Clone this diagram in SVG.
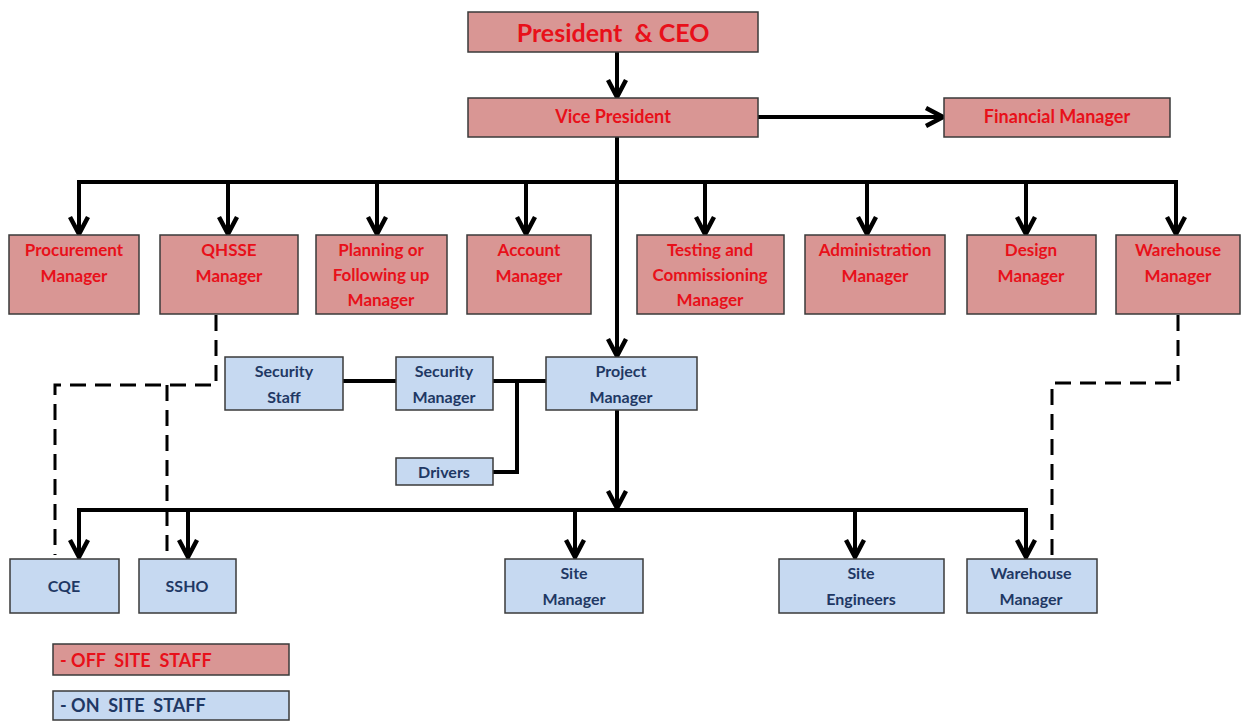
<svg xmlns="http://www.w3.org/2000/svg" width="1245" height="722" viewBox="0 0 1245 722">
<defs>
<style>
text{white-space:pre}
.off{fill:#D99694;stroke:#3a3a3a;stroke-width:1.5}
.on{fill:#C6D9F1;stroke:#3a3a3a;stroke-width:1.5}
.tr{fill:#E8101A;font-family:Lato,"Liberation Sans",sans-serif;font-weight:bold;font-size:17px;text-anchor:middle}
.tb{fill:#1F3864;font-family:Lato,"Liberation Sans",sans-serif;font-weight:bold;font-size:16px;text-anchor:middle}
.ln{stroke:#000;stroke-width:4;fill:none}
.dl{stroke:#000;stroke-width:3;fill:none;stroke-dasharray:16 9}
</style>
<marker id="ah" viewBox="0 0 22 22" refX="19" refY="11" markerWidth="22" markerHeight="22" markerUnits="userSpaceOnUse" orient="auto">
<path d="M2,2 L19,11 L2,20" fill="none" stroke="#000" stroke-width="4.5"/>
</marker>
</defs>
<rect width="1245" height="722" fill="#fff"/>

<g id="connectors">
<line class="ln" x1="617" y1="52" x2="617" y2="97" marker-end="url(#ah)"/>
<line class="ln" x1="758" y1="117" x2="943" y2="117" marker-end="url(#ah)"/>
<line class="ln" x1="617" y1="137" x2="617" y2="356" marker-end="url(#ah)"/>
<line class="ln" x1="77" y1="182" x2="1178" y2="182"/>
<line class="ln" x1="79" y1="182" x2="79" y2="234" marker-end="url(#ah)"/>
<line class="ln" x1="228" y1="182" x2="228" y2="234" marker-end="url(#ah)"/>
<line class="ln" x1="377" y1="182" x2="377" y2="234" marker-end="url(#ah)"/>
<line class="ln" x1="526" y1="182" x2="526" y2="234" marker-end="url(#ah)"/>
<line class="ln" x1="705" y1="182" x2="705" y2="234" marker-end="url(#ah)"/>
<line class="ln" x1="867" y1="182" x2="867" y2="234" marker-end="url(#ah)"/>
<line class="ln" x1="1026" y1="182" x2="1026" y2="234" marker-end="url(#ah)"/>
<line class="ln" x1="1176" y1="182" x2="1176" y2="234" marker-end="url(#ah)"/>
<line class="ln" x1="343" y1="381" x2="396" y2="381"/>
<line class="ln" x1="493" y1="381" x2="546" y2="381"/>
<path class="ln" d="M517,381 V472 H493"/>
<line class="ln" x1="617" y1="410" x2="617" y2="508" marker-end="url(#ah)"/>
<line class="ln" x1="77" y1="510" x2="1028" y2="510"/>
<line class="ln" x1="79" y1="510" x2="79" y2="557" marker-end="url(#ah)"/>
<line class="ln" x1="188" y1="510" x2="188" y2="557" marker-end="url(#ah)"/>
<line class="ln" x1="575" y1="510" x2="575" y2="557" marker-end="url(#ah)"/>
<line class="ln" x1="855" y1="510" x2="855" y2="557" marker-end="url(#ah)"/>
<line class="ln" x1="1026" y1="510" x2="1026" y2="557" marker-end="url(#ah)"/>
<path class="dl" d="M216,315 V385 H55 V555"/>
<path class="dl" d="M167,385 V555"/>
<path class="dl" d="M1178,315 V383 H1052 V555"/>
</g>

<g id="ceo"><rect class="off" x="468" y="12" width="290" height="40"/><text class="tr" x="613" y="42" style="font-size:25px">President  &amp; CEO</text></g>
<g id="vp"><rect class="off" x="468" y="98" width="290" height="39"/><text class="tr" x="613" y="123" style="font-size:18px">Vice President</text></g>
<g id="fm"><rect class="off" x="944" y="98" width="226" height="39"/><text class="tr" x="1057" y="123" style="font-size:18px">Financial Manager</text></g>

<g id="procurement"><rect class="off" x="9" y="235" width="130" height="79"/><text class="tr" x="74" y="256">Procurement</text><text class="tr" x="74" y="282">Manager</text></g>
<g id="qhsse"><rect class="off" x="160" y="235" width="138" height="79"/><text class="tr" x="229" y="256">QHSSE</text><text class="tr" x="229" y="282">Manager</text></g>
<g id="planning"><rect class="off" x="316" y="235" width="131" height="79"/><text class="tr" x="381" y="256">Planning or</text><text class="tr" x="381" y="281">Following up</text><text class="tr" x="381" y="306">Manager</text></g>
<g id="account"><rect class="off" x="467" y="235" width="124" height="79"/><text class="tr" x="529" y="256">Account</text><text class="tr" x="529" y="282">Manager</text></g>
<g id="testing"><rect class="off" x="637" y="235" width="147" height="79"/><text class="tr" x="710" y="256">Testing and</text><text class="tr" x="710" y="281">Commissioning</text><text class="tr" x="710" y="306">Manager</text></g>
<g id="administration"><rect class="off" x="805" y="235" width="140" height="79"/><text class="tr" x="875" y="256">Administration</text><text class="tr" x="875" y="282">Manager</text></g>
<g id="design"><rect class="off" x="967" y="235" width="129" height="79"/><text class="tr" x="1031" y="256">Design</text><text class="tr" x="1031" y="282">Manager</text></g>
<g id="warehouse-off"><rect class="off" x="1116" y="235" width="124" height="79"/><text class="tr" x="1178" y="256">Warehouse</text><text class="tr" x="1178" y="282">Manager</text></g>

<g id="security-staff"><rect class="on" x="225" y="357" width="118" height="53"/><text class="tb" x="284" y="377">Security</text><text class="tb" x="284" y="403">Staff</text></g>
<g id="security-manager"><rect class="on" x="396" y="357" width="97" height="53"/><text class="tb" x="444" y="377">Security</text><text class="tb" x="444" y="403">Manager</text></g>
<g id="project-manager"><rect class="on" x="546" y="357" width="151" height="53"/><text class="tb" x="621" y="377">Project</text><text class="tb" x="621" y="403">Manager</text></g>
<g id="drivers"><rect class="on" x="396" y="458" width="97" height="27"/><text class="tb" x="444" y="478">Drivers</text></g>

<g id="cqe"><rect class="on" x="10" y="559" width="109" height="54"/><text class="tb" x="64" y="592">CQE</text></g>
<g id="ssho"><rect class="on" x="139" y="559" width="97" height="54"/><text class="tb" x="187" y="592">SSHO</text></g>
<g id="site-manager"><rect class="on" x="505" y="559" width="138" height="54"/><text class="tb" x="574" y="579">Site</text><text class="tb" x="574" y="605">Manager</text></g>
<g id="site-engineers"><rect class="on" x="779" y="559" width="165" height="54"/><text class="tb" x="861" y="579">Site</text><text class="tb" x="861" y="605">Engineers</text></g>
<g id="warehouse-on"><rect class="on" x="967" y="559" width="130" height="54"/><text class="tb" x="1031" y="579">Warehouse</text><text class="tb" x="1031" y="605">Manager</text></g>

<g id="legend-off"><rect class="off" x="53" y="644" width="236" height="31"/><text class="tr" x="60" y="667" style="text-anchor:start;font-size:18px">- OFF  SITE  STAFF</text></g>
<g id="legend-on"><rect class="on" x="53" y="691" width="236" height="29"/><text class="tb" x="60" y="712" style="text-anchor:start;font-size:18px">- ON  SITE  STAFF</text></g>
</svg>
